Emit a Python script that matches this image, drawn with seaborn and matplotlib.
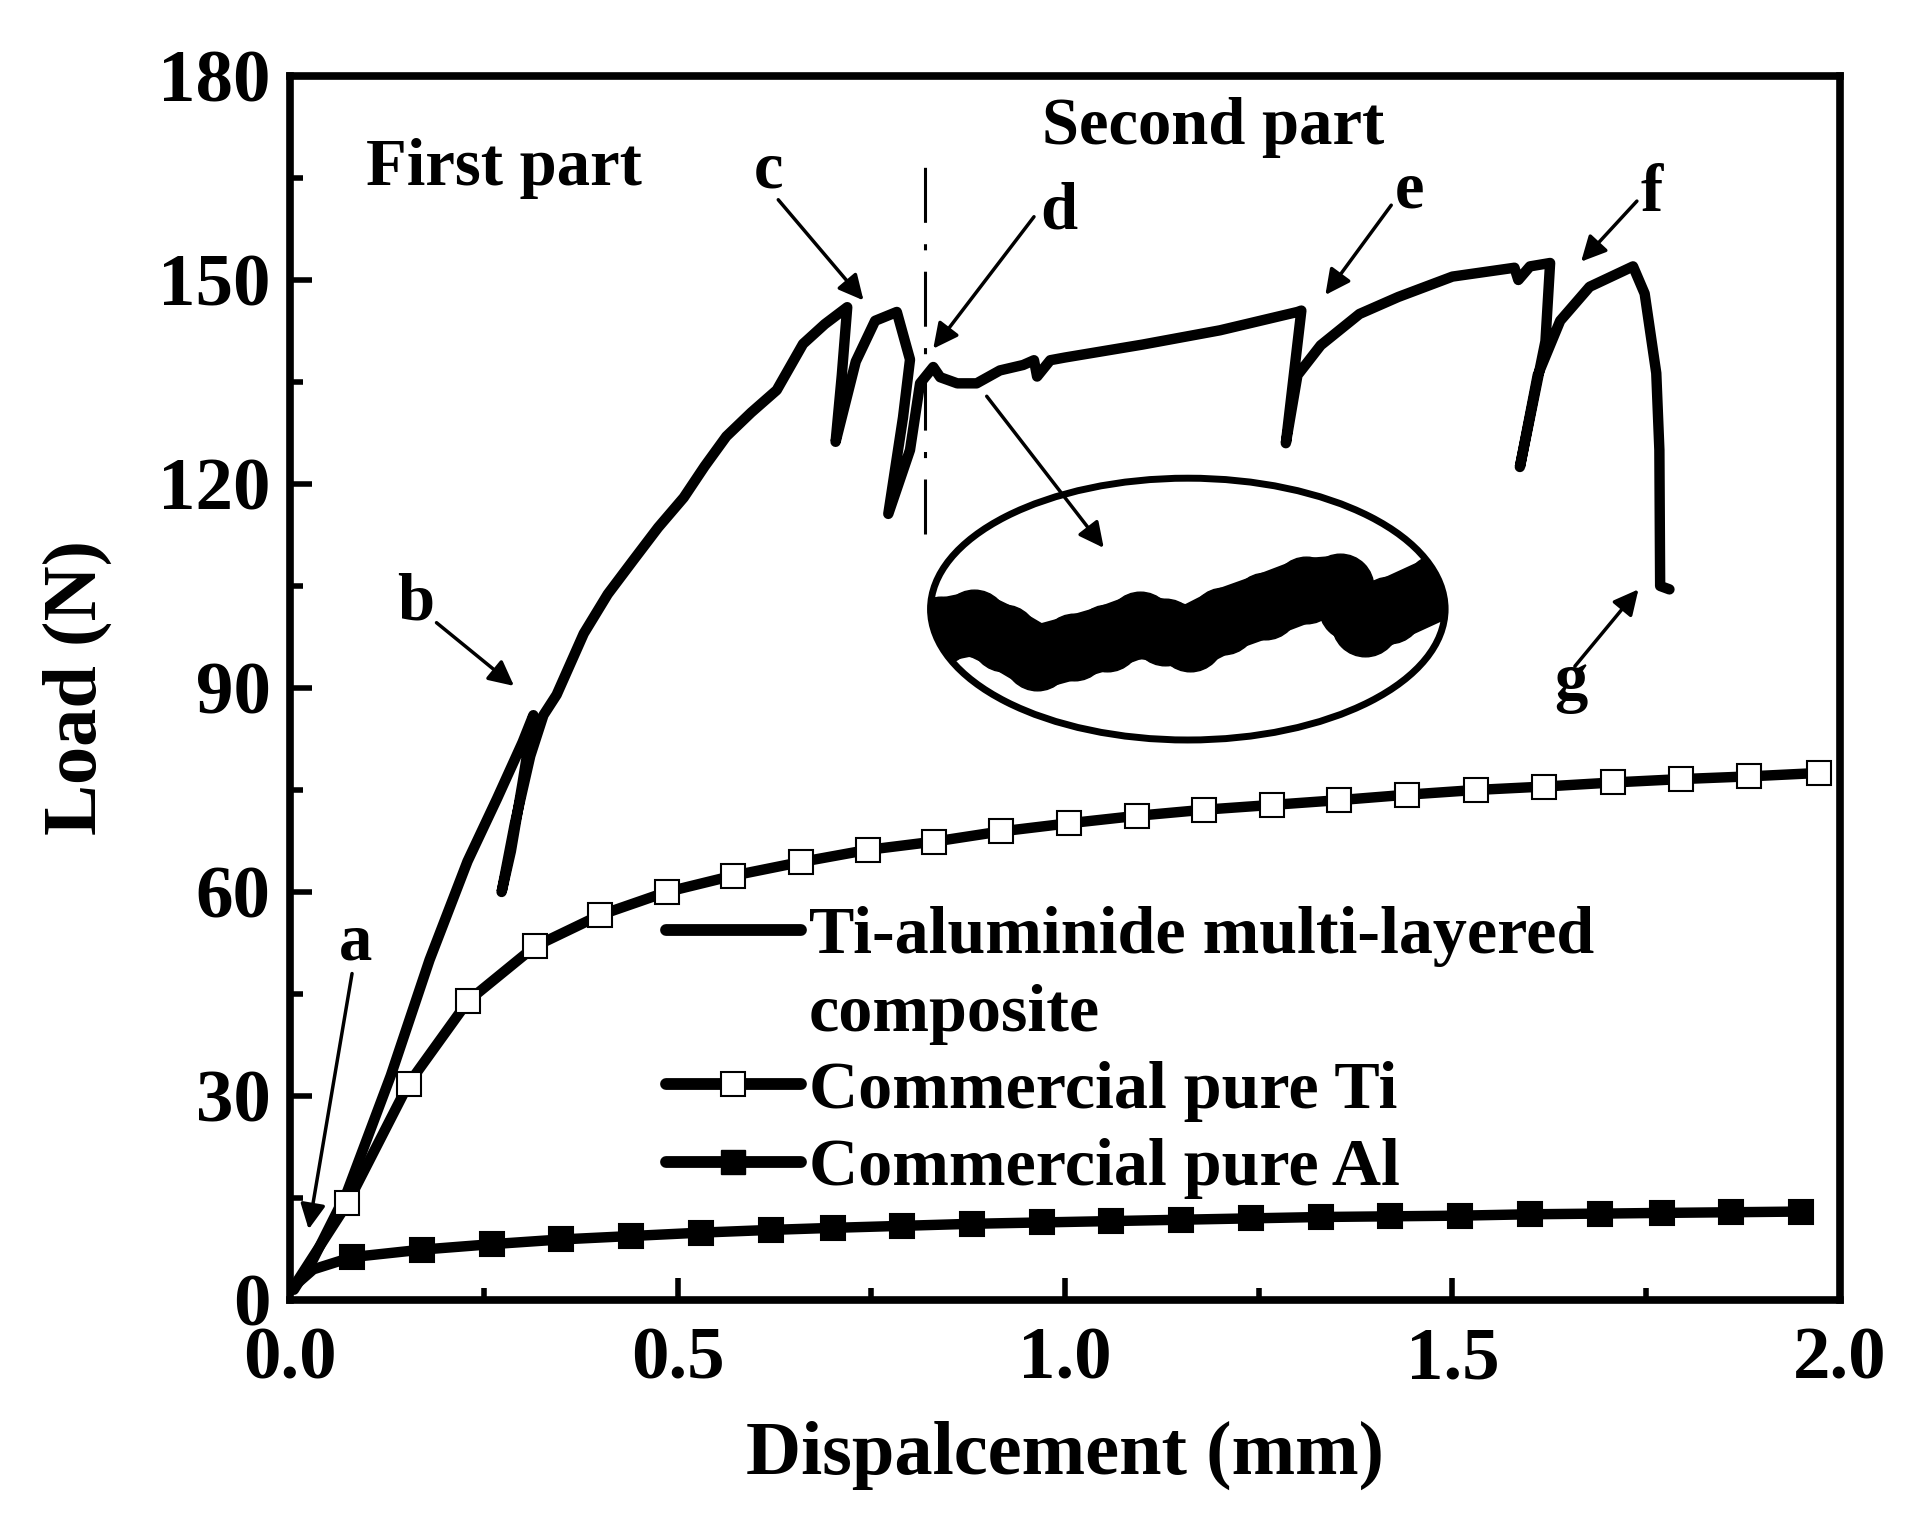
import matplotlib
matplotlib.use("Agg")
import matplotlib.pyplot as plt
from matplotlib.lines import Line2D
from matplotlib.patches import Ellipse
from matplotlib.ticker import MultipleLocator
import numpy as np
import seaborn as sns

###############################################################################
# Data

# Ti-aluminide multi-layered composite (load-displacement path, incl. unload/reload)
comp_x = [0.005, 0.03, 0.074, 0.13, 0.18, 0.229, 0.267, 0.30, 0.314, 0.30, 0.285,
          0.273, 0.29, 0.31, 0.327, 0.344, 0.379, 0.41, 0.443, 0.475, 0.508, 0.535,
          0.563, 0.595, 0.628, 0.662, 0.69,
          0.719, 0.712, 0.704, 0.73, 0.755, 0.783, 0.80, 0.791, 0.772, 0.80, 0.813,
          0.83, 0.839, 0.861, 0.886, 0.916, 0.946, 0.960, 0.964, 0.981, 1.0, 1.1,
          1.2, 1.3, 1.305, 1.285, 1.30, 1.33, 1.38, 1.43, 1.5, 1.58, 1.585, 1.6,
          1.626, 1.62, 1.587, 1.61, 1.639, 1.677, 1.733, 1.748, 1.763, 1.767,
          1.768, 1.78]
comp_y = [1.5, 6, 16, 33, 50, 64.5, 73.7, 82, 86, 76, 66,
          60, 70, 80, 86, 89, 98, 103.8, 108.8, 113.6, 118, 122.6,
          127, 130.5, 133.8, 140.6, 143.5,
          146, 136, 126.2, 138, 144, 145.3, 138.3, 129.8, 115.6, 125, 134.8,
          137.2, 135.7, 134.8, 134.8, 136.7, 137.5, 138.2, 135.8, 138.2, 138.6, 140.5,
          142.6, 145.3, 145.5, 126, 136, 140.4, 145, 147.5, 150.5, 151.8, 150, 152,
          152.5, 141, 122.5, 136, 144, 149, 152, 148, 136.3, 125,
          105, 104.5]

# Commercial pure Ti
ti_x = [0.005, 0.074, 0.153, 0.23, 0.316, 0.40, 0.486, 0.572, 0.659, 0.746, 0.831,
        0.917, 1.005, 1.093, 1.180, 1.267, 1.353, 1.441, 1.530, 1.618, 1.707, 1.795,
        1.883, 1.973]
ti_y = [2.0, 14.2, 31.8, 44.0, 52.0, 56.6, 60.0, 62.4, 64.4, 66.2, 67.4,
        68.9, 70.1, 71.2, 72.1, 72.8, 73.5, 74.3, 75.0, 75.5, 76.1, 76.6,
        77.0, 77.5]

# Commercial pure Al
al_x = [0.005, 0.03, 0.08, 0.17, 0.26, 0.35, 0.44, 0.53, 0.62, 0.70, 0.79, 0.88,
        0.97, 1.06, 1.15, 1.24, 1.33, 1.42, 1.51, 1.60, 1.69, 1.77, 1.86, 1.95]
al_y = [2.0, 4.5, 6.3, 7.4, 8.2, 8.9, 9.4, 9.9, 10.3, 10.6, 10.9, 11.2,
        11.4, 11.6, 11.8, 12.0, 12.2, 12.3, 12.4, 12.6, 12.7, 12.8, 12.9, 13.0]

# magnified (inset) band of the second part
inset_x = [0.80, 0.840, 0.883, 0.921, 0.964, 1.012, 1.054, 1.097, 1.129, 1.161,
           1.204, 1.258, 1.311, 1.355, 1.370, 1.387, 1.418, 1.483, 1.53]
inset_y = [99.0, 98.5, 99.5, 97.4, 94.5, 96.0, 97.4, 99.2, 98.2, 97.4,
           99.9, 102.1, 104.4, 104.8, 101.9, 99.5, 101.4, 104.8, 106.5]
inset_center = (1.1585, 101.6)
inset_size = (0.664, 38.5)

# letter labels: text position and arrow (tail -> tip)
letters = ['a', 'b', 'c', 'd', 'e', 'f', 'g']
letter_pos = [(0.084, 50.0), (0.162, 100.0), (0.617, 163.6), (0.992, 157.5),
              (1.445, 160.6), (1.757, 160.2), (1.653, 88.3)]
arrow_tail = [(0.080, 48.0), (0.189, 99.6), (0.630, 161.8), (0.960, 159.3),
              (1.421, 161.0), (1.738, 161.6), (1.658, 93.2)]
arrow_tip = [(0.024, 10.4), (0.289, 90.3), (0.740, 147.0), (0.830, 139.9),
             (1.336, 147.8), (1.666, 152.7), (1.740, 104.5)]

divider_x = 0.82
divider_y = (112.6, 169.6)

x_ticks = [0.0, 0.5, 1.0, 1.5, 2.0]
y_ticks = [0, 30, 60, 90, 120, 150, 180]

###############################################################################
# Style

sns.set_theme(style="ticks")
plt.rcParams['font.family'] = ['Liberation Serif', 'DejaVu Serif']
plt.rcParams['font.weight'] = 'bold'
plt.rcParams['axes.labelweight'] = 'bold'
plt.rcParams['text.color'] = 'black'
plt.rcParams['axes.labelcolor'] = 'black'
plt.rcParams['xtick.color'] = 'black'
plt.rcParams['ytick.color'] = 'black'

fig = plt.figure(figsize=(19.17, 15.29), dpi=100)
ax = fig.add_axes([0.1513, 0.1498, 0.8085, 0.8005])

lw = 7.5
sns.lineplot(x=comp_x, y=comp_y, sort=False, estimator=None, ax=ax,
             color='black', linewidth=lw, solid_joinstyle='round',
             solid_capstyle='round')
sns.lineplot(x=ti_x, y=ti_y, sort=False, estimator=None, ax=ax,
             color='black', linewidth=lw, marker='s', markersize=17,
             markerfacecolor='white', markeredgecolor='black',
             markeredgewidth=1.5, markevery=list(range(1, len(ti_x))),
             solid_capstyle='round')
sns.lineplot(x=al_x, y=al_y, sort=False, estimator=None, ax=ax,
             color='black', linewidth=lw, marker='s', markersize=17,
             markerfacecolor='black', markeredgecolor='black',
             markeredgewidth=1.5, markevery=list(range(2, len(al_x))),
             solid_capstyle='round')

# inset ellipse with magnified band
ell = Ellipse(inset_center, inset_size[0], inset_size[1], fill=False,
              edgecolor='black', linewidth=5, zorder=5)
ax.add_patch(ell)
band, = ax.plot(inset_x, inset_y, color='black', linewidth=46,
                solid_capstyle='round', solid_joinstyle='round',
                marker='o', markersize=48, zorder=4)
band.set_clip_path(ell)

# divider between first and second part
ax.plot([divider_x, divider_x], list(divider_y), color='black', linewidth=2.2,
        dashes=[18, 7, 2, 7])

# arrow from curve to inset
ax.annotate('', xy=(1.05, 110.6), xytext=(0.899, 132.9),
            arrowprops=dict(arrowstyle='-|>', color='black', lw=2.5,
                            mutation_scale=38, shrinkA=0, shrinkB=0))

for lab, pos, tail, tip in zip(letters, letter_pos, arrow_tail, arrow_tip):
    ax.text(pos[0], pos[1], lab, fontsize=48, fontweight='bold',
            ha='center', va='baseline')
    ax.annotate('', xy=tip, xytext=tail,
                arrowprops=dict(arrowstyle='-|>', color='black', lw=2.5,
                                mutation_scale=38, shrinkA=0, shrinkB=0))

ax.text(0.098, 164.0, 'First part', fontsize=48, fontweight='bold',
        ha='left', va='baseline')
ax.text(0.970, 170.0, 'Second part', fontsize=48, fontweight='bold',
        ha='left', va='baseline')

# legend
handles = [
    Line2D([], [], color='black', lw=lw + 1, solid_capstyle='round'),
    Line2D([], [], color='none'),
    Line2D([], [], color='black', lw=lw + 1, marker='s', markersize=17,
           markerfacecolor='white', markeredgecolor='black',
           markeredgewidth=1.5, solid_capstyle='round'),
    Line2D([], [], color='black', lw=lw + 1, marker='s', markersize=17,
           markerfacecolor='black', markeredgecolor='black',
           solid_capstyle='round'),
]
labels = ['Ti-aluminide multi-layered', 'composite',
          'Commercial pure Ti', 'Commercial pure Al']
ax.legend(handles, labels, loc='upper left', bbox_to_anchor=(0.2426, 0.322),
          frameon=False, handlelength=1.98, handletextpad=0.12,
          labelspacing=0.23, borderpad=0, borderaxespad=0, numpoints=1,
          prop={'weight': 'bold', 'size': 49})

# axes
ax.set_xlim(0, 2.0)
ax.set_ylim(0, 180)
ax.set_xticks(x_ticks)
ax.set_yticks(y_ticks)
ax.set_xticklabels([f"{v:.1f}" for v in x_ticks])
ax.set_yticklabels([str(v) for v in y_ticks])
ax.xaxis.set_minor_locator(MultipleLocator(0.25))
ax.yaxis.set_minor_locator(MultipleLocator(15))
ax.tick_params(which='both', direction='in', top=False, right=False,
               width=4, colors='black')
ax.tick_params(which='major', length=16, labelsize=54)
ax.tick_params(which='minor', length=9)
ax.tick_params(axis='x', which='major', pad=19)
ax.tick_params(axis='y', which='major', pad=14)
for t in ax.get_xticklabels() + ax.get_yticklabels():
    t.set_fontweight('bold')
for s in ax.spines.values():
    s.set_linewidth(5.5)
    s.set_color('black')
    s.set_visible(True)

ax.set_xlabel('Dispalcement (mm)', fontsize=55, fontweight='bold')
ax.set_ylabel('Load (N)', fontsize=55, fontweight='bold')
ax.xaxis.set_label_coords(0.5, -0.099)
ax.yaxis.set_label_coords(-0.115, 0.5)

fig.savefig('out.png', dpi=100)
